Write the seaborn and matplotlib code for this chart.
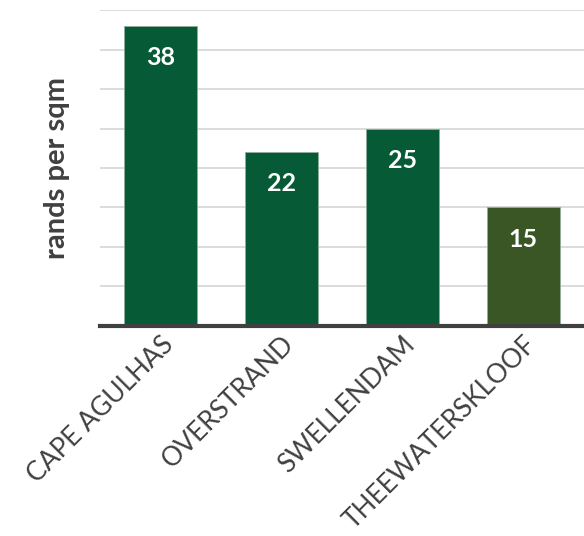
import matplotlib
matplotlib.use("Agg")
import matplotlib.pyplot as plt
import seaborn as sns

municipalities = ["CAPE AGULHAS", "OVERSTRAND", "SWELLENDAM", "THEEWATERSKLOOF"]
rands_per_sqm = [38, 22, 25, 15]
bar_colors = ["#065B36", "#065B36", "#065B36", "#3B5625"]

sns.set_style("white")
plt.rcParams["font.family"] = ["Lato", "DejaVu Sans"]

fig = plt.figure(figsize=(5.84, 5.36), dpi=100)
ax = fig.add_axes([0.171, 0.392, 0.829, 0.589])

sns.barplot(x=municipalities, y=rands_per_sqm, hue=municipalities,
            palette=bar_colors, width=0.6, legend=False, saturation=1,
            edgecolor="#8fae9a", linewidth=0.6, ax=ax)

ax.set_ylim(0, 40)
ax.set_xlim(-0.5, 3.5)
ax.set_yticks(range(5, 41, 5))
ax.set_yticklabels([])
ax.tick_params(axis="y", length=0)
ax.tick_params(axis="x", length=0, pad=4)
ax.yaxis.grid(True, color="#d9d9d9", linewidth=1.3)
ax.set_axisbelow(True)

for side in ["left", "right", "top"]:
    ax.spines[side].set_visible(False)
ax.spines["bottom"].set_color("#404040")
ax.spines["bottom"].set_linewidth(3)

for cont in ax.containers:
    ax.bar_label(cont, padding=-31, color="white", fontsize=18,
                 fontweight="bold")

ax.set_xticks(range(len(municipalities)))
ax.set_xticklabels(municipalities, rotation=45, ha="right",
                   rotation_mode="anchor", fontsize=19, color="#404040",
                   fontweight="normal")

ax.set_ylabel("rands per sqm", fontsize=21, fontweight="bold",
              color="#404040", labelpad=18)

fig.savefig("out.png", dpi=100)
